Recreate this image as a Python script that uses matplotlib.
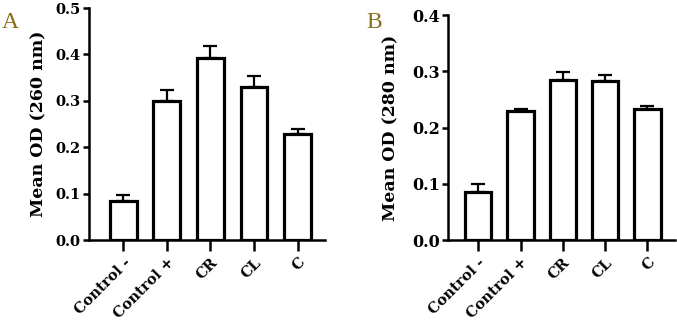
import matplotlib
matplotlib.use('Agg')
from matplotlib import pyplot as plt
import numpy as np

# data
groups = ['Control -', 'Control +', 'CR', 'CL', 'C']
od260 = [0.084, 0.300, 0.393, 0.329, 0.229]
od260_err = [0.013, 0.023, 0.026, 0.024, 0.010]
od280 = [0.085, 0.230, 0.284, 0.283, 0.233]
od280_err = [0.014, 0.003, 0.015, 0.011, 0.005]

plt.rcParams['font.family'] = ['DejaVu Serif']
plt.rcParams['font.weight'] = 'bold'

fig = plt.figure(figsize=(6.77, 3.27), dpi=100)
axA = fig.add_axes([0.1315, 0.266, 0.3485, 0.7095])
axB = fig.add_axes([0.662, 0.266, 0.335, 0.688])

def panel(ax, vals, errs, ylabel, ymax, xlim, lpad, tsize):
    x = np.arange(len(groups))
    ax.errorbar(x, vals, yerr=[np.zeros(len(errs)), errs], fmt='none',
                ecolor='black', elinewidth=1.6, capsize=5, capthick=1.6, zorder=1)
    ax.bar(x, vals, width=0.62, color='white', edgecolor='black', linewidth=2.3, zorder=2)
    ax.set_xlim(xlim)
    ax.set_ylim(0, ymax)
    ax.set_yticks(np.arange(0, ymax + 0.001, 0.1))
    ax.set_yticklabels(['%.1f' % v for v in np.arange(0, ymax + 0.001, 0.1)],
                       fontsize=tsize, fontweight='bold')
    ax.set_xticks(x)
    ax.set_xticklabels(groups, rotation=45, ha='right', va='top',
                       rotation_mode='anchor', fontsize=10.5, fontweight='bold')
    ax.set_ylabel(ylabel, fontsize=12.5, fontweight='bold', labelpad=lpad)
    for s in ['top', 'right']:
        ax.spines[s].set_visible(False)
    for s in ['left', 'bottom']:
        ax.spines[s].set_linewidth(1.8)
    ax.tick_params(axis='y', length=4, width=1.8, pad=2)
    ax.tick_params(axis='x', length=8, width=1.8, pad=3)

panel(axA, od260, od260_err, 'Mean OD (260 nm)', 0.5, (-0.79, 4.63), 6, 10.5)
panel(axB, od280, od280_err, 'Mean OD (280 nm)', 0.4, (-0.71, 4.65), 9, 11.5)

fig.text(0.002, 0.915, 'A', fontsize=17, color='#8a6d1c', fontweight='normal',
         family='Liberation Serif')
fig.text(0.541, 0.915, 'B', fontsize=17, color='#8a6d1c', fontweight='normal',
         family='Liberation Serif')

fig.savefig('out.png', dpi=100)
